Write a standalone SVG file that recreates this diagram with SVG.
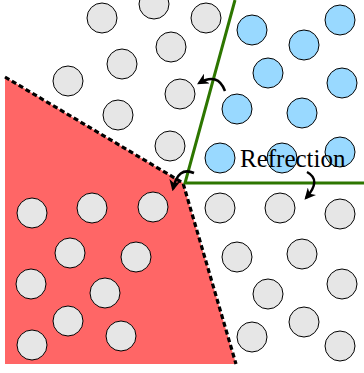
<svg xmlns="http://www.w3.org/2000/svg" width="364" height="373" viewBox="0 0 364 373">
<style>
.g{fill:#e6e6e6;stroke:#000;stroke-width:1}
.b{fill:#99d9ff;stroke:#000;stroke-width:1}
.green{stroke:#2d7600;stroke-width:3;fill:none}
.arr{stroke:#000;stroke-width:2.5;fill:none}
.lbl{font-family:"Liberation Serif",serif;font-size:25px;fill:#000}
</style>
<defs>
<marker id="ah" viewBox="0 0 10 10" refX="8" refY="5" markerWidth="4.5" markerHeight="4.5" orient="auto" markerUnits="strokeWidth">
<path d="M0,0 L10,5 L0,10 L3,5 z" fill="#000"/>
</marker>
</defs>
<g id="medium">
<path d="M5,77 L183,183 L236,364 L5,364 Z" fill="#ff6666"/>
<path d="M5,77 L183,183 L236,364" fill="none" stroke="#000" stroke-width="3.2" stroke-dasharray="5 3"/>
</g>
<g id="gray-particles">
<circle class="g" cx="102" cy="18" r="15"/>
<circle class="g" cx="154" cy="4" r="15"/>
<circle class="g" cx="206" cy="18" r="15"/>
<circle class="g" cx="171" cy="47" r="15"/>
<circle class="g" cx="122" cy="64" r="15"/>
<circle class="g" cx="68" cy="81" r="15"/>
<circle class="g" cx="180" cy="94" r="15"/>
<circle class="g" cx="118" cy="115" r="15"/>
<circle class="g" cx="170" cy="146" r="15"/>
<circle class="g" cx="32" cy="213" r="15"/>
<circle class="g" cx="92" cy="208" r="15"/>
<circle class="g" cx="153" cy="207" r="15"/>
<circle class="g" cx="70" cy="253" r="15"/>
<circle class="g" cx="136" cy="257" r="15"/>
<circle class="g" cx="31" cy="284" r="15"/>
<circle class="g" cx="105" cy="293" r="15"/>
<circle class="g" cx="68" cy="321" r="15"/>
<circle class="g" cx="121" cy="336" r="15"/>
<circle class="g" cx="32" cy="345" r="15"/>
<circle class="g" cx="220" cy="208" r="15"/>
<circle class="g" cx="280" cy="208" r="15"/>
<circle class="g" cx="340" cy="214" r="15"/>
<circle class="g" cx="237" cy="257" r="15"/>
<circle class="g" cx="302" cy="254" r="15"/>
<circle class="g" cx="268" cy="294" r="15"/>
<circle class="g" cx="342" cy="284" r="15"/>
<circle class="g" cx="252" cy="337" r="15"/>
<circle class="g" cx="304" cy="322" r="15"/>
<circle class="g" cx="340" cy="346" r="15"/>
</g>
<g id="blue-particles">
<circle class="b" cx="252" cy="30" r="15"/>
<circle class="b" cx="340" cy="20" r="15"/>
<circle class="b" cx="304" cy="45" r="15"/>
<circle class="b" cx="268" cy="73" r="15"/>
<circle class="b" cx="342" cy="83" r="15"/>
<circle class="b" cx="237" cy="109" r="15"/>
<circle class="b" cx="302" cy="113" r="15"/>
<circle class="b" cx="220" cy="158" r="15"/>
<circle class="b" cx="282" cy="158" r="15"/>
<circle class="b" cx="340" cy="152" r="15"/>
</g>
<g id="connectors">
<path class="green" d="M235,0 L185,183 L364,183"/>
<path class="arr" d="M225,91 Q218,72 199,83" marker-end="url(#ah)"/>
<path class="arr" d="M194,173 Q178,166 173,189" marker-end="url(#ah)"/>
<path class="arr" d="M307,172 Q322,180 306,198" marker-end="url(#ah)"/>
</g>
<g id="label">
<text class="lbl" x="240" y="167">Refrection</text>
</g>
</svg>
